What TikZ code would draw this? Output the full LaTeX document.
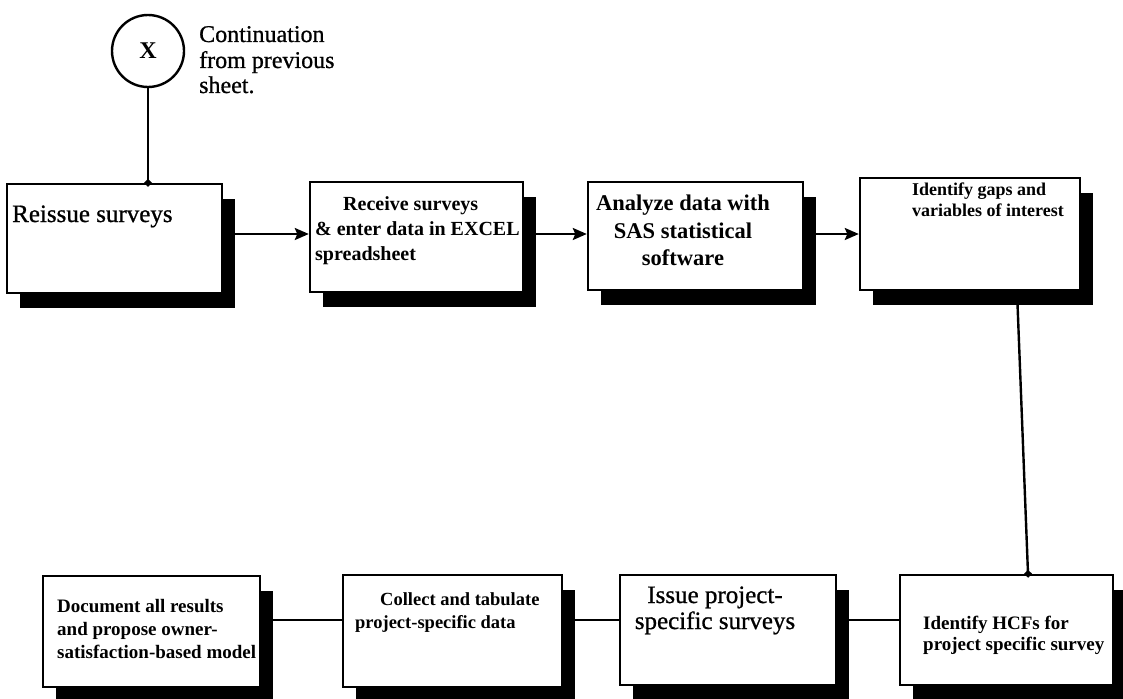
\documentclass[tikz,border=0pt]{standalone}
\usepackage{fontspec}
\setmainfont{Liberation Serif}
\newfontface\heavyface[FakeBold=0.8]{Liberation Serif}
\usetikzlibrary{arrows.meta,shadows}
\begin{document}
\begin{tikzpicture}[x=1pt,y=-1pt,
  box/.style={draw=black, line width=2.4pt, fill=white, inner sep=0pt,
    drop shadow={shadow xshift=13pt, shadow yshift=-15pt, fill=black, opacity=1}},
  lbl/.style={inner sep=0pt, anchor=base west},
  clbl/.style={inner sep=0pt, anchor=base},
  arr/.style={line width=2.4pt, -{Stealth[length=14pt,width=12pt,inset=2.5pt]}},
  link/.style={line width=2.4pt},
  feed/.style={line width=2.4pt, -{Turned Square[length=8pt,width=8pt]}, shorten >=-4pt},
  big/.style={font=\heavyface\fontsize{25}{28}\selectfont},
  note/.style={font=\heavyface\fontsize{24}{27}\selectfont},
  mid/.style={font=\bfseries\fontsize{22.5}{26}\selectfont},
  med/.style={font=\bfseries\fontsize{20}{24}\selectfont},
  sml/.style={font=\bfseries\fontsize{19}{22}\selectfont},
  tiny/.style={font=\bfseries\fontsize{18}{21}\selectfont}
]
\fill[white] (0,0) rectangle (1123,698);
\useasboundingbox (0,0) rectangle (1123,698);

% connector rows
\coordinate (rowA) at (0,234);
\coordinate (rowB) at (0,620);

% off-page connector
\node[draw, circle, line width=2.4pt, minimum size=72pt, inner sep=0pt,
      font=\bfseries\fontsize{24}{26}\selectfont] (c) at (148,51) {X};
\node[lbl, note] (n1) at (199,42) {Continuation};
\node[lbl, note] (n2) at (199,68) {from previous};
\node[lbl, note] (n3) at (199,93) {sheet.};

% upper row of steps
\node[box, minimum width=215pt, minimum height=109pt] (b1) at (114.5,238.5) {};
\node[box, minimum width=213pt, minimum height=110pt] (b2) at (416.5,237) {};
\node[box, minimum width=215pt, minimum height=108pt] (b3) at (695.5,236) {};
\node[box, minimum width=220pt, minimum height=112pt] (b4) at (970,234) {};

% lower row of steps
\node[box, minimum width=217pt, minimum height=111pt] (b5) at (151.5,631.5) {};
\node[box, minimum width=219pt, minimum height=112pt] (b6) at (452.5,631) {};
\node[box, minimum width=216pt, minimum height=110pt] (b7) at (728,630) {};
\node[box, minimum width=213pt, minimum height=110pt] (b8) at (1006.5,630) {};

% step texts
\node[lbl, big] (t1) at (12,222) {Reissue surveys};

\node[lbl, med] (t2a) at (343,210) {Receive surveys};
\node[lbl, med] (t2b) at (315,235) {\& enter data in EXCEL};
\node[lbl, med] (t2c) at (315,260) {spreadsheet};

\node[clbl, mid] (t3a) at (683,210) {Analyze data with};
\node[clbl, mid] (t3b) at (683,238) {SAS statistical};
\node[clbl, mid] (t3c) at (683,265) {software};

\node[lbl, tiny] (t4a) at (912,195) {Identify gaps and};
\node[lbl, tiny] (t4b) at (912,216) {variables of interest};

\node[lbl, sml] (t5a) at (57,612) {Document all results};
\node[lbl, sml] (t5b) at (57,635) {and propose owner-};
\node[lbl, sml] (t5c) at (57,658) {satisfaction-based model};

\node[lbl, font=\bfseries\fontsize{18.5}{22}\selectfont] (t6a) at (380,605) {Collect and tabulate};
\node[lbl, font=\bfseries\fontsize{18.5}{22}\selectfont] (t6b) at (355,628) {project-specific data};

\node[clbl, big] (t7a) at (715,603) {Issue project-};
\node[clbl, big] (t7b) at (715,629) {specific surveys};

\node[lbl, sml] (t8a) at (923,629) {Identify HCFs for};
\node[lbl, sml] (t8b) at (923,650) {project specific survey};

% connectors
\draw[feed] (c.south) -- (c.south |- b1.north);
\draw[arr] (b1.east |- rowA) -- (b2.west |- rowA);
\draw[arr] (b2.east |- rowA) -- (b3.west |- rowA);
\draw[arr] (b3.east |- rowA) -- (b4.west |- rowA);
\draw[feed] ([xshift=47pt]b4.south) -- ([xshift=21.5pt]b8.north);
\draw[link] (b8.west |- rowB) -- (b7.east |- rowB);
\draw[link] (b7.west |- rowB) -- (b6.east |- rowB);
\draw[link] (b6.west |- rowB) -- (b5.east |- rowB);
\end{tikzpicture}
\end{document}
